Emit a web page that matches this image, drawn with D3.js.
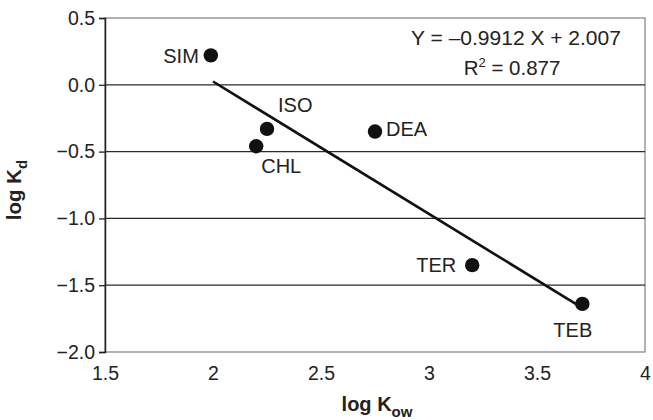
<!DOCTYPE html>
<html><head><meta charset="utf-8">
<script src="https://cdn.jsdelivr.net/npm/d3@7"></script>
<style>body{margin:0;background:#fff;} svg{display:block;font-family:"Liberation Sans",Arial,sans-serif;}</style>
</head><body>
<svg id="c" width="653" height="420"></svg>
<script>
const names = ["SIM","ISO","CHL","DEA","TER","TEB"];
const logKow = [1.99, 2.25, 2.20, 2.75, 3.20, 3.71];
const logKd = [0.22, -0.33, -0.46, -0.35, -1.35, -1.64];
const xTicks = [1.5, 2, 2.5, 3, 3.5, 4];
const xTickLabels = ["1.5","2","2.5","3","3.5","4"];
const yTicks = [0.5, 0.0, -0.5, -1.0, -1.5, -2.0];
const yTickLabels = ["0.5","0.0","\u22120.5","\u22121.0","\u22121.5","\u22122.0"];
const slope = -0.9912, intercept = 2.007, r2 = 0.877;
const fitRange = [2.0, 3.7];

const svg = d3.select("#c");
const L=105, R=645, T=18, B=352;
const x = d3.scaleLinear().domain([1.5,4]).range([L,R]);
const y = d3.scaleLinear().domain([-2,0.5]).range([B,T]);

// frame
svg.append("rect").attr("x",L).attr("y",T).attr("width",R-L).attr("height",B-T)
  .attr("fill","none").attr("stroke","#8a8a8a").attr("stroke-width",1.3);
// gridlines
svg.append("g").selectAll("line").data(yTicks.filter(v=>v>-2&&v<0.5)).join("line")
  .attr("x1",L).attr("x2",R).attr("y1",d=>y(d)).attr("y2",d=>y(d))
  .attr("stroke","#2a2a2a").attr("stroke-width",1.2);

// y axis
const ya = svg.append("g").attr("transform",`translate(${L},0)`)
  .call(d3.axisLeft(y).tickValues(yTicks).tickSize(6).tickPadding(4)
    .tickFormat((d,i)=>yTickLabels[i]));
ya.select(".domain").attr("stroke","#222").attr("stroke-width",1.5);
ya.selectAll(".tick line").attr("stroke","#222").attr("stroke-width",1.3);
ya.selectAll("text").attr("font-size",19.5).attr("fill","#222").attr("font-family","'Liberation Sans',Arial,sans-serif");

// x axis
const xa = svg.append("g").attr("transform",`translate(0,${B})`)
  .call(d3.axisBottom(x).tickValues(xTicks).tickSize(0).tickPadding(14)
    .tickFormat((d,i)=>xTickLabels[i]));
xa.select(".domain").remove();
xa.selectAll("text").attr("font-size",19.5).attr("fill","#222").attr("font-family","'Liberation Sans',Arial,sans-serif");

// fit line
svg.append("line")
  .attr("x1",x(fitRange[0])).attr("y1",y(slope*fitRange[0]+intercept))
  .attr("x2",x(fitRange[1])).attr("y2",y(slope*fitRange[1]+intercept))
  .attr("stroke","#111").attr("stroke-width",2.6);

// points
svg.append("g").selectAll("circle").data(names).join("circle")
  .attr("cx",(d,i)=>x(logKow[i])).attr("cy",(d,i)=>y(logKd[i])).attr("r",7.2).attr("fill","#111");

// labels: offsets
const off = {SIM:[-12,8,"end"], ISO:[11,-17,"start"], CHL:[5,27,"start"], DEA:[11,4,"start"], TER:[-16,7,"end"], TEB:[-29,33,"start"]};
svg.append("g").selectAll("text").data(names).join("text")
  .attr("x",(d,i)=>x(logKow[i])+off[d][0]).attr("y",(d,i)=>y(logKd[i])+off[d][1])
  .attr("text-anchor",d=>off[d][2]).attr("font-size",20).attr("fill","#222").text(d=>d);

// equation
svg.append("text").attr("x",516).attr("y",45).attr("text-anchor","middle").attr("font-size",21).attr("fill","#222")
  .text(`Y = \u2013${Math.abs(slope)} X + ${intercept}`);
const rt = svg.append("text").attr("x",512).attr("y",75).attr("text-anchor","middle").attr("font-size",20.5).attr("fill","#222");
rt.append("tspan").text("R");
rt.append("tspan").attr("dy",-8).attr("font-size",13).text("2");
rt.append("tspan").attr("dy",8).text(" = " + r2);

// axis titles
const xt = svg.append("text").attr("x",377).attr("y",411).attr("text-anchor","middle").attr("font-size",20).attr("font-weight","bold").attr("fill","#222");
xt.append("tspan").text("log K");
xt.append("tspan").attr("dy",6).attr("font-size",15).text("ow");
const yt = svg.append("text").attr("transform","translate(21,190) rotate(-90)").attr("text-anchor","middle").attr("font-size",20.5).attr("font-weight","bold").attr("fill","#222");
yt.append("tspan").text("log K");
yt.append("tspan").attr("dy",6).attr("font-size",15).text("d");
</script>
</body></html>
